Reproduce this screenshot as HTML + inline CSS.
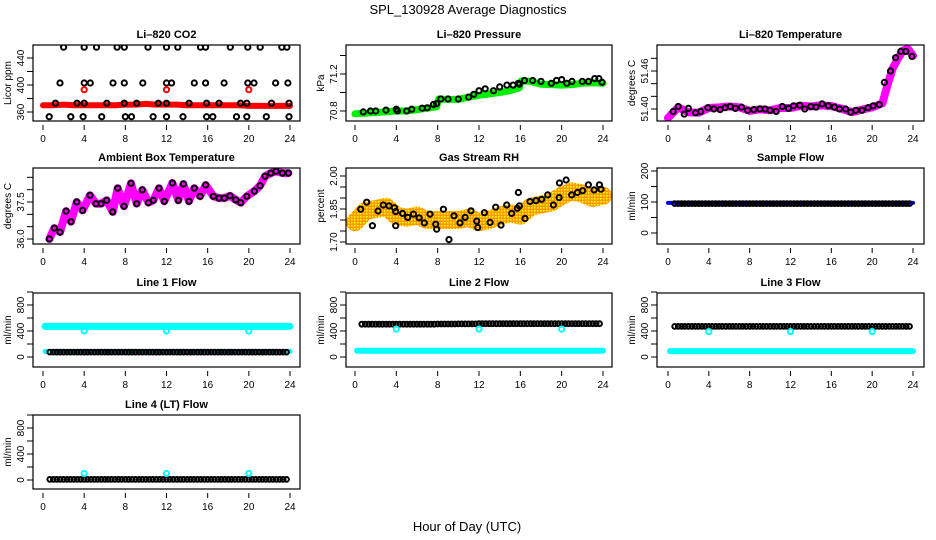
<!DOCTYPE html>
<html><head><meta charset="utf-8"><style>
html,body{margin:0;padding:0;background:#fff;}
svg{display:block;font-family:"Liberation Sans",Arial,sans-serif;}
</style></head><body>
<svg id="chart" width="936" height="540" viewBox="0 0 936 540" xmlns="http://www.w3.org/2000/svg">
<defs>
<pattern id="rhpat" width="3" height="3" patternUnits="userSpaceOnUse"><rect width="3" height="3" fill="#ff9900"/><rect width="1.5" height="1.5" fill="#ffff00"/></pattern>
</defs>
<text x="468" y="14" font-size="13" text-anchor="middle">SPL_130928  Average Diagnostics</text>
<text x="467" y="531" font-size="13" text-anchor="middle">Hour of Day (UTC)</text>
</svg>
<script>
// ---------- data ----------
const xTicks = [0,4,8,12,16,20,24];

const co2BandT = [0,1,2,3,4,5,6,7,8,9,10,11,12,13,14,15,16,17,18,19,20,21,22,23,24];
const co2BandV = [370,370,371,370,370,370,370,370,371,371,372,371,371,371,370,370,370,370,370,370,369,369,369,369,369];
const co2CircT = [2.0,4.0,5.2,7.2,7.9,10.2,12.0,13.1,15.3,15.8,18.2,19.9,21.1,23.2,23.7,
  1.65,4.0,4.6,6.8,7.9,9.7,12.0,12.5,14.7,15.8,17.6,19.9,20.5,22.6,23.8,
  1.2,3.3,4.0,6.2,7.9,9.1,11.2,12.0,14.2,15.9,17.1,19.2,19.8,22.2,23.9,
  0.6,2.7,3.9,5.7,8.0,8.6,10.7,12.0,13.6,15.9,16.5,18.8,19.8,21.7,23.9];
const co2CircV = [456,456,456,456,456,456,456,456,456,456,456,456,456,456,456,
  403,403,403,403,403,403,403,403,403,403,403,403,403,403,403,
  373,373,373,373,373,373,373,373,373,373,373,373,373,373,373,
  353,353,353,353,353,353,353,353,353,353,353,353,353,353,353];
const co2RedT = [4,12,20];
const co2RedV = [393,393,393];

const presBandT = [0,1,2,3,4,5,6,7,7.9,8.1,9,10,11,12,13,14,15,15.9,16.1,17,18,19,20,21,22,23,24];
const presBandV = [70.77,70.775,70.785,70.79,70.8,70.8,70.815,70.83,70.845,70.93,70.925,70.925,70.95,70.97,70.985,71.0,71.02,71.05,71.125,71.12,71.09,71.085,71.08,71.085,71.1,71.105,71.1];
const presCircT = [0.8,1.5,2.0,3.0,4.0,4.1,5.0,5.5,6.5,7.0,7.6,7.9,8.3,9.0,10.0,11.0,11.5,12.0,12.6,13.4,14.0,14.7,15.3,15.8,15.9,16.4,17.2,18.0,19.0,19.5,20.0,20.5,21.0,22.0,22.6,23.2,23.6,23.9];
const presCircV = [70.79,70.8,70.8,70.81,70.82,70.8,70.8,70.82,70.83,70.835,70.87,70.88,70.93,70.93,70.93,70.95,70.98,71.02,71.04,71.02,71.06,71.08,71.08,71.1,71.09,71.13,71.13,71.12,71.1,71.13,71.14,71.1,71.12,71.12,71.12,71.15,71.15,71.11];

const ltBandT = [0,1,2,3,4,5,6,7,8,9,10,11,12,13,14,15,16,17,18,19,20,21,21.5,22,22.5,23,23.5,24];
const ltBandV = [51.386,51.4026,51.395,51.394,51.4015,51.4026,51.404,51.4026,51.397,51.3995,51.398,51.4015,51.4015,51.405,51.404,51.4057,51.4047,51.4005,51.395,51.399,51.4026,51.409,51.438,51.464,51.479,51.492,51.495,51.484];
const ltCircT = [0.5,1.0,1.6,2.0,2.7,3.2,3.9,4.5,5.1,5.6,6.1,6.6,7.2,7.8,8.4,9.0,9.5,10.0,10.6,11.2,11.8,12.3,12.9,13.4,14.0,14.5,15.1,15.7,16.3,16.8,17.4,17.9,18.4,19.0,19.6,20.1,20.7,21.2,21.8,22.3,22.8,23.3,23.9];
const ltCircV = [51.396,51.404,51.392,51.401,51.394,51.396,51.402,51.4,51.399,51.402,51.404,51.401,51.403,51.398,51.399,51.4,51.4,51.398,51.396,51.404,51.401,51.405,51.406,51.4,51.404,51.403,51.408,51.405,51.403,51.4,51.4,51.395,51.398,51.398,51.402,51.405,51.407,51.442,51.46,51.481,51.491,51.491,51.483];

const ambT = [0.62,1.1,1.65,2.24,2.72,3.27,3.85,4.57,5.15,5.64,6.19,6.77,7.26,7.87,8.55,9.1,9.65,10.24,10.72,11.27,11.79,12.57,13.15,13.64,14.19,14.7,15.26,15.81,16.55,17.1,17.62,18.17,18.72,19.21,19.8,20.54,21.09,21.57,22.13,22.64,23.26,23.84];
const ambV = [36.0,36.44,36.28,37.13,36.7,37.5,37.16,37.77,37.43,37.43,37.57,37.1,38.06,37.33,38.26,37.43,37.99,37.47,37.57,38.06,37.53,38.27,37.57,38.23,37.53,38.06,37.73,38.19,37.73,37.66,37.66,37.75,37.59,37.47,37.73,37.94,38.16,38.54,38.67,38.75,38.67,38.67];

const rhBandT = [0,1,2,3,4,5,6,7,8,9,10,11,12,13,14,15,16,17,18,19,20,21,22,23,24];
const rhBandV = [1.79,1.84,1.85,1.86,1.82,1.81,1.82,1.80,1.80,1.80,1.80,1.81,1.79,1.80,1.82,1.83,1.82,1.86,1.87,1.88,1.91,1.93,1.92,1.90,1.91];
const rhCircT = [0.55,1.13,1.68,2.23,2.74,3.29,3.81,3.94,3.94,4.61,5.1,5.65,6.2,6.71,7.26,7.81,7.91,8.55,9.1,9.58,10.16,10.65,11.23,11.78,11.87,12.52,13.07,13.62,14.13,14.68,15.16,15.71,15.81,15.91,16.45,16.94,17.52,18.07,18.65,19.2,19.75,19.78,20.43,20.97,21.52,22.04,22.59,23.14,23.65,23.81];
const rhCircV = [1.849,1.881,1.774,1.841,1.868,1.864,1.856,1.838,1.774,1.83,1.812,1.827,1.81,1.787,1.827,1.781,1.758,1.849,1.711,1.819,1.787,1.812,1.842,1.795,1.766,1.833,1.789,1.858,1.777,1.868,1.83,1.853,1.925,1.864,1.807,1.884,1.888,1.894,1.914,1.868,1.902,1.968,1.982,1.914,1.925,1.933,1.96,1.937,1.96,1.94];

const sfBandT = [0,24];
const sfBandV = [97,97];
const sfCircV = [95,95,95,95,95,95,95,95,95,95,95,95,95,95,95,95,95,95,95,95,95,95,95,95];

const l1HighV = [470,470];
const l1LowV = [85,85];
const l1CircV = [75,75,75,75,75,75,75,75,75,75,75,75,75,75,75,75,75,75,75,75,75,75,75,75];
const l1MarkV = [400,400,400];

const l2CyanV = [95,95];
const l2CircV = [505,505,505,505,505,505,505,505,508,508,510,510,512,512,512,512,512,512,512,512,512,512,512,512];
const l2MarkV = [430,430,430];

const l3CyanV = [90,90];
const l3CircV = [470,470,470,470,470,470,470,470,470,470,470,470,470,470,470,470,470,470,470,470,470,470,470,470];
const l3MarkV = [390,390,390];

const l4CircV = [10,10,10,10,10,10,10,10,10,10,10,10,10,10,10,10,10,10,10,10,10,10,10,10];
const l4MarkV = [100,100,100];
const markT = [4,12,20];
const flatT = [0.2,24];

// ---------- drawing ----------
const svg = document.getElementById('chart');
const NS = 'http://www.w3.org/2000/svg';
function mk(tag, attrs, parent){
  const e = document.createElementNS(NS, tag);
  for (const k in attrs) e.setAttribute(k, attrs[k]);
  (parent||svg).appendChild(e);
  return e;
}
const cols = [{l:33,r:300,x0:43,x24:290},{l:346,r:612,x0:355,x24:603},{l:657,r:924,x0:668,x24:913}];
const rows = [{t:45,b:121},{t:168,b:244},{t:293,b:367},{t:415,b:489}];

function panel(name, title, ytitle, ci, ri, v0, p0, v1, p1, ticks, labels){
  const c = cols[ci], r = rows[ri];
  const g = mk('g', {});
  
  
  const sx = t => c.x0 + (c.x24 - c.x0) * t / 24;
  const sy = v => p0 + (p1 - p0) * (v - v0) / (v1 - v0);
  const clip = mk('clipPath', {id: 'clip-' + name}, g);
  mk('rect', {x:c.l, y:r.t, width:c.r-c.l, height:r.b-r.t}, clip);
  const plot = mk('g', {'clip-path':'url(#clip-' + name + ')'}, g);
  
  
  const box = mk('rect', {x:c.l, y:r.t, width:c.r-c.l, height:r.b-r.t, fill:'none', stroke:'#000', 'stroke-width':1.2}, g);
  
  
  const tt = mk('text', {x:(c.l+c.r)/2, y:r.t-7, 'font-size':11, 'font-weight':'bold', 'text-anchor':'middle'}, g);
  tt.textContent = title;
  
  
  const yt = mk('text', {x:0, y:0, 'font-size':10, 'text-anchor':'middle', transform:'translate(' + (c.l-22) + ',' + ((r.t+r.b)/2) + ') rotate(-90)'}, g);
  yt.textContent = ytitle;
  
  
  xTicks.forEach(t => {
    const x = sx(t);
    const tk = mk('line', {x1:x, x2:x, y1:r.b+4, y2:r.b+9, stroke:'#000', 'stroke-width':1}, g);
    
    
    const lb = mk('text', {x:x, y:r.b+21, 'font-size':10, 'text-anchor':'middle'}, g);
    lb.textContent = String(t);
    
    
  });
  ticks.forEach(v => {
    const y = sy(v);
    const tk = mk('line', {x1:c.l-6, x2:c.l, y1:y, y2:y, stroke:'#000', 'stroke-width':1}, g);
    
    
  });
  labels.forEach(l => {
    const y = sy(l.v);
    const lb = mk('text', {x:0, y:0, 'font-size':10, 'text-anchor':'middle', transform:'translate(' + (c.l-9) + ',' + y + ') rotate(-90)'}, g);
    lb.textContent = l.s;
    
    
  });
  return {plot, sx, sy};
}
function band(p, name, T, V, color, w){
  const pts = T.map((t,i) => p.sx(t).toFixed(1) + ',' + p.sy(V[i]).toFixed(1)).join(' ');
  const e = mk('polyline', {points:pts, fill:'none', stroke:color, 'stroke-width':w, 'stroke-linejoin':'round', 'stroke-linecap':'round'}, p.plot);
  
  
}
function circles(p, name, T, V, color, rad, sw){
  T.forEach((t,i) => {
    const e = mk('circle', {cx:p.sx(t).toFixed(1), cy:p.sy(V[i]).toFixed(1), r:rad||2.6, fill:'none', stroke:color, 'stroke-width':sw||2}, p.plot);
    
    
  });
}
function denseCircles(p, name, V, color){
  V.forEach((v,h) => {
    [0.5,0.83,1.16].forEach(o => {
      const t = h + o - 0.5;
      if (t < 0.4 || t > 23.9) return;
      const e = mk('circle', {cx:p.sx(t).toFixed(1), cy:p.sy(v).toFixed(1), r:2.4, fill:'none', stroke:color, 'stroke-width':2}, p.plot);
      
      
    });
  });
}

let p = panel('co2', 'Li\u2013820 CO2', 'Licor ppm', 0, 0, 360, 112, 440, 58,
  [360,380,400,420,440], [{v:360,s:'360'},{v:400,s:'400'},{v:440,s:'440'}]);
band(p, 'co2-band', co2BandT, co2BandV, '#ff0000', 6);
circles(p, 'co2-point', co2CircT, co2CircV, '#000');
circles(p, 'co2-red-point', co2RedT, co2RedV, '#ff0000');

p = panel('pressure', 'Li\u2013820 Pressure', 'kPa', 1, 0, 70.8, 111, 71.2, 74,
  [70.8,71.0,71.2,71.4], [{v:70.8,s:'70.8'},{v:71.2,s:'71.2'}]);
band(p, 'pressure-band', presBandT, presBandV, '#00ee00', 7);
circles(p, 'pressure-point', presCircT, presCircV, '#000');

p = panel('li-temp', 'Li\u2013820 Temperature', 'degrees C', 2, 0, 51.40, 109, 51.46, 71,
  [51.40,51.42,51.44,51.46,51.48], [{v:51.40,s:'51.40'},{v:51.46,s:'51.46'}]);
band(p, 'li-temp-band', ltBandT, ltBandV, '#ff00ff', 8);
circles(p, 'li-temp-point', ltCircT, ltCircV, '#000');

p = panel('ambient', 'Ambient Box Temperature', 'degrees C', 0, 1, 36.0, 239, 37.5, 202,
  [36.0,36.5,37.0,37.5,38.0,38.5], [{v:36.0,s:'36.0'},{v:37.5,s:'37.5'}]);
band(p, 'ambient-band', ambT, ambV, '#ff00ff', 8);
circles(p, 'ambient-point', ambT, ambV, '#000');

p = panel('rh', 'Gas Stream RH', 'percent', 1, 1, 1.70, 242, 2.00, 176,
  [1.70,1.75,1.80,1.85,1.90,1.95,2.00], [{v:1.70,s:'1.70'},{v:1.85,s:'1.85'},{v:2.00,s:'2.00'}]);
band(p, 'rh-band', rhBandT, rhBandV, 'url(#rhpat)', 18);
circles(p, 'rh-point', rhCircT, rhCircV, '#000');

p = panel('sample-flow', 'Sample Flow', 'ml/min', 2, 1, 0, 233, 200, 171,
  [0,50,100,150,200], [{v:0,s:'0'},{v:100,s:'100'},{v:200,s:'200'}]);
band(p, 'sample-flow-band', sfBandT, sfBandV, '#0000ff', 4);
denseCircles(p, 'sample-flow-point', sfCircV, '#000');

const flowTicks = [0,200,400,600,800,1000];
const flowLabels = [{v:0,s:'0'},{v:400,s:'400'},{v:800,s:'800'}];

p = panel('line1', 'Line 1 Flow', 'ml/min', 0, 2, 0, 357, 800, 305, flowTicks, flowLabels);
band(p, 'line1-high-band', flatT, l1HighV, '#00ffff', 7);
band(p, 'line1-low-band', flatT, l1LowV, '#00ffff', 5);
denseCircles(p, 'line1-point', l1CircV, '#000');
circles(p, 'line1-cyan-point', markT, l1MarkV, '#00ffff');

p = panel('line2', 'Line 2 Flow', 'ml/min', 1, 2, 0, 357, 800, 305, flowTicks, flowLabels);
band(p, 'line2-band', flatT, l2CyanV, '#00ffff', 6);
denseCircles(p, 'line2-point', l2CircV, '#000');
circles(p, 'line2-cyan-point', markT, l2MarkV, '#00ffff');

p = panel('line3', 'Line 3 Flow', 'ml/min', 2, 2, 0, 357, 800, 305, flowTicks, flowLabels);
band(p, 'line3-band', flatT, l3CyanV, '#00ffff', 6);
denseCircles(p, 'line3-point', l3CircV, '#000');
circles(p, 'line3-cyan-point', markT, l3MarkV, '#00ffff');

p = panel('line4', 'Line 4 (LT) Flow', 'ml/min', 0, 3, 0, 480, 800, 428, flowTicks, flowLabels);
denseCircles(p, 'line4-point', l4CircV, '#000');
circles(p, 'line4-cyan-point', markT, l4MarkV, '#00ffff');
</script>
</body></html>
